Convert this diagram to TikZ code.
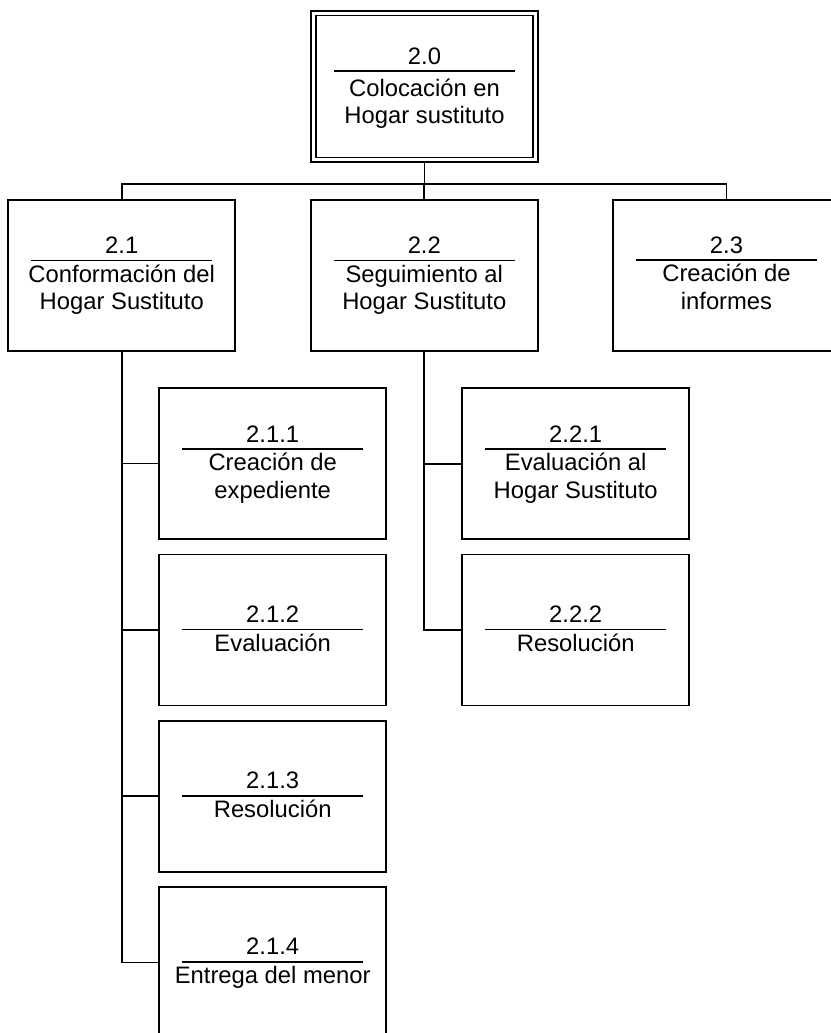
\documentclass[tikz,border=0pt]{standalone}
\usepackage{fontspec}
\setmainfont{Liberation Sans}
% Text block inside a box: number, rule, title lines.
% #1 box name, #2 number, #3 first title line, #4 rule offset from centre, #5 gap rule->first baseline
\newcommand\wbshead[5]{%
  \path ([shift={(0,#4)}]#1.center) coordinate (#1-rule);
  \node[lbl] (#1-num) at ([shift={(0,-7)}]#1-rule) {#2};
  \draw[rulel] ([shift={(-90.5,0)}]#1-rule) -- ([shift={(90.5,0)}]#1-rule);
  \node[lbl] (#1-l1) at ([shift={(0,#5)}]#1-rule) {#3};
}
% second title line, one line pitch below the first
\newcommand\wbssecond[2]{%
  \node[lbl] (#1-l2) at ([shift={(0,27.3)}]#1-l1.base) {#2};
}
\begin{document}
\begin{tikzpicture}[x=1pt,y=-1pt,
  every node/.style={inner sep=0pt,outer sep=0pt},
  wbs/.style={draw,line width=1.7pt,minimum width=227pt,minimum height=151pt},
  lbl/.style={anchor=base,font=\fontsize{23.8}{27.3}\selectfont},
  rulel/.style={line width=1.4pt},
  link/.style={line width=1.7pt}]
\useasboundingbox (0,0) rectangle (830,1033);

% top level
\node[wbs] (top) at (424.5,86.5) {};
\draw[line width=1.7pt] ([shift={(4.8,4.5)}]top.north west) rectangle ([shift={(-4.8,-4.5)}]top.south east);
\wbshead{top}{2.0}{Colocación en}{-15.5}{25}
\wbssecond{top}{Hogar sustituto}

% first level
\node[wbs] (b21) at (121.75,275.5) {};
\node[wbs] (b22) at (424.3,275.5) {};
\node[wbs] (b23) at (726.5,275.5) {};
\wbshead{b21}{2.1}{Conformación del}{-15.2}{21.7}
\wbssecond{b21}{Hogar Sustituto}
\wbshead{b22}{2.2}{Seguimiento al}{-15.2}{21.7}
\wbssecond{b22}{Hogar Sustituto}
\wbshead{b23}{2.3}{Creación de}{-15.5}{21.7}
\wbssecond{b23}{informes}

% second level under 2.1
\node[wbs] (b211) at (272.7,463.6) {};
\node[wbs] (b212) at (272.7,629.9) {};
\node[wbs] (b213) at (272.7,796.2) {};
\node[wbs] (b214) at (272.7,962.5) {};
\wbshead{b211}{2.1.1}{Creación de}{-14.6}{21.7}
\wbssecond{b211}{expediente}
\wbshead{b212}{2.1.2}{Evaluación}{-0.4}{21.7}
\wbshead{b213}{2.1.3}{Resolución}{-0.4}{21.7}
\wbshead{b214}{2.1.4}{Entrega del menor}{-0.6}{21.7}

% second level under 2.2
\node[wbs] (b221) at (575.7,463.7) {};
\node[wbs] (b222) at (575.7,630) {};
\wbshead{b221}{2.2.1}{Evaluación al}{-14.7}{21.7}
\wbssecond{b221}{Hogar Sustituto}
\wbshead{b222}{2.2.2}{Resolución}{-0.6}{21.7}

% connectors
\coordinate (bus) at (424.5,184);
\draw[link] (top.south) -- (top.south |- bus);
\draw[link] (b21.north) -- (b21.north |- bus) -- (b23.north |- bus) -- (b23.north);
\draw[link] (b22.north) -- (b22.north |- bus);

\draw[link] (b21.south) |- (b214.west);
\foreach \n in {b211,b212,b213}
  \draw[link] (\n.west) -- (b21.south |- \n.west);
\draw[link] (b22.south) |- (b222.west);
\draw[link] (b221.west) -- (b22.south |- b221.west);
\end{tikzpicture}
\end{document}
